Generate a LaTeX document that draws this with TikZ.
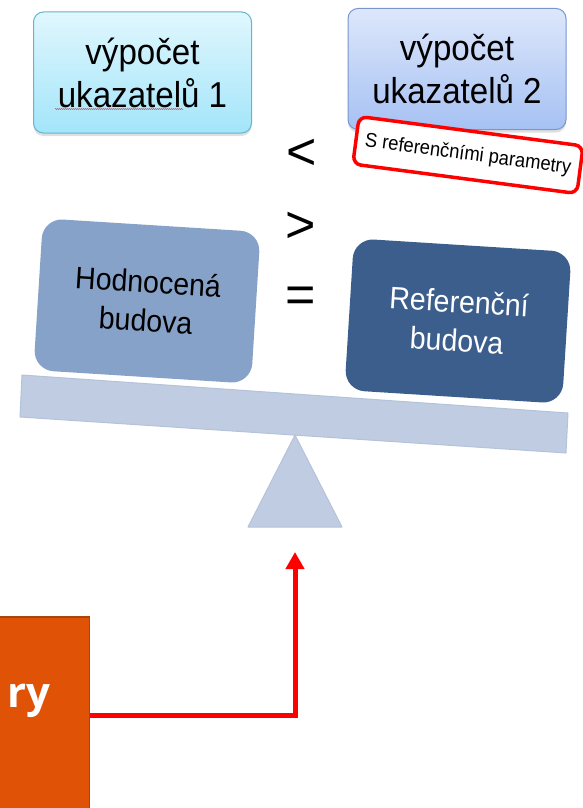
\documentclass[tikz,border=0pt]{standalone}
\usepackage{fontspec}
\setmainfont{Liberation Sans}
\newfontfamily\narrowfont[FakeStretch=0.92]{Liberation Sans}
\newfontfamily\inputfont{Open Sans}
\usetikzlibrary{arrows.meta,shadows,decorations.pathmorphing}

\definecolor{calcAtop}{HTML}{E0F7FD}
\definecolor{calcAbot}{HTML}{A3E5FA}
\definecolor{calcAline}{HTML}{62B6CE}
\definecolor{calcBtop}{HTML}{DDE7FB}
\definecolor{calcBbot}{HTML}{A6C1F3}
\definecolor{calcBline}{HTML}{7895D0}
\definecolor{evalfill}{HTML}{87A2C9}
\definecolor{reffill}{HTML}{3B5E8C}
\definecolor{beamfill}{HTML}{C0CCE1}
\definecolor{beamline}{HTML}{B4C2DA}
\definecolor{inputfill}{HTML}{E05206}
\definecolor{inputline}{HTML}{A9440F}

\tikzset{
  calcbox/.style={rounded corners=10pt, minimum width=218pt, minimum height=121pt,
    align=center, line width=1pt, font=\narrowfont\fontsize{36}{43}\selectfont,
    drop shadow={opacity=0.25, shadow xshift=0pt, shadow yshift=-3pt}},
  bldgbox/.style={rounded corners=20pt, minimum width=218pt, minimum height=152pt,
    align=center, rotate=-3.6, font=\narrowfont\fontsize{31}{39}\selectfont},
  relsign/.style={font=\fontsize{52}{52}\selectfont},
  scalepart/.style={draw=beamline, fill=beamfill, line width=1pt, line join=round},
}

\begin{document}
\begin{tikzpicture}[x=1pt,y=-1pt]
      \useasboundingbox (0,0) rectangle (583,808);
      \clip (0,0) rectangle (583,808);
      % calculations
      \node[calcbox, draw=calcAline, top color=calcAtop, bottom color=calcAbot] (calc1) at (142.5,72.5) {výpočet\\ukazatelů 1};
      \node[calcbox, draw=calcBline, top color=calcBtop, bottom color=calcBbot] (calc2) at (457,69) {výpočet\\ukazatelů 2};
      \draw[red!75, line width=0.4pt, decorate, decoration={zigzag, amplitude=0.5pt, segment length=2pt}] (55,109) -- (183,109);
      \node[draw=red, line width=3.5pt, fill=white, rounded corners=8pt, rotate=-7.5,
        minimum width=226pt, minimum height=48pt, font=\narrowfont\fontsize{20}{22}\selectfont] (refnote) at (468,155) {S referenčními parametry};
      % relations
      \node[relsign] (lt) at (302,154) {<};
      \node[relsign] (gt) at (301,227) {>};
      \node[relsign] (eq) at (301,300) {=};
      % scale
      \draw[scalepart] (22,375) -- (568,413) -- (566,453) -- (20,417) -- cycle;
      \draw[scalepart] (295,435) -- (342,527) -- (248,527) -- cycle;
      \node[bldgbox, fill=evalfill] (evalbldg) at (147,301) {Hodnocená\\budova};
      \node[bldgbox, fill=reffill, text=white] (refbldg) at (458,321) {Referenční\\budova};
      % input
      \node[draw=inputline, fill=inputfill, line width=1.5pt, minimum width=300pt, minimum height=196pt, anchor=east] (input) at (90,715) {};
      \node[anchor=base west, inner sep=0pt, text=white, font=\inputfont\bfseries\fontsize{42}{42}\selectfont] (inputtext) at (7,707) {ry};
      \coordinate (tip) at (295,552);
      \draw[red, line width=5pt, -{Triangle[width=18pt,length=17pt]}] (input.east) -| (tip);
\end{tikzpicture}
\end{document}
